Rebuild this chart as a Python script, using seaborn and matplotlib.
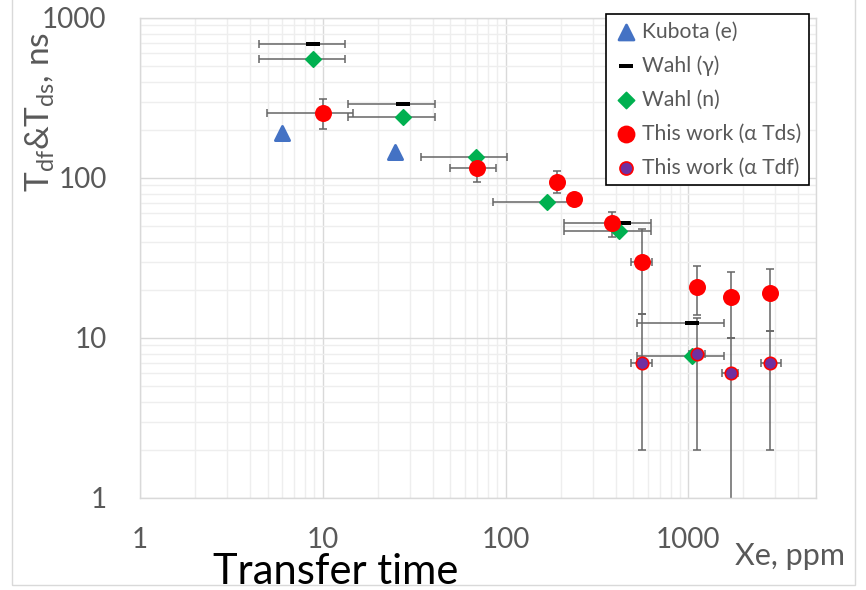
import numpy as np
import matplotlib
matplotlib.use("Agg")
import matplotlib.pyplot as plt
import seaborn as sns
from matplotlib.patches import Rectangle
from matplotlib.ticker import LogLocator, FuncFormatter, NullFormatter

# ---------------- data ----------------
kub_x = [6.0, 25.0]
kub_y = [190, 145]

wg_x = [8.8, 27.5, 447, 1050]
wg_y = [688, 292, 52.3, 12.4]
wg_xlo = [4.5, 13.7, 210, 526]
wg_xhi = [13.2, 41, 628, 1573]

wn_x = [8.8, 27.5, 69, 168, 420, 1050]
wn_y = [554, 240, 135, 71, 46.6, 7.7]
wn_xlo = [4.5, 13.7, 34.4, 85, 210, 526]
wn_xhi = [13.2, 41, 102, 238, 628, 1573]

tds_x = [10, 69.5, 192, 238, 384, 561, 1120, 1718, 2806]
tds_y = [255, 115, 94.4, 73.9, 52.3, 29.9, 20.8, 18.0, 19.1]
tds_ylo = [202, 94.4, 80.5, 73.9, 42.8, 14.1, 13.9, 10.0, 11.0]
tds_yhi = [312, 130, 110.6, 73.9, 61.3, 48.0, 28.2, 25.8, 27.0]
tds_xlo = [4.94, 49.4, 192, 238, 384, 488, 1120, 1718, 2806]
tds_xhi = [14.6, 88.2, 192, 238, 384, 636, 1120, 1718, 2806]

tdf_x = [561, 1120, 1718, 2806]
tdf_y = [7.0, 7.9, 6.0, 7.0]
tdf_ylo = [2.0, 2.0, 0.3, 2.0]
tdf_yhi = [14.1, 13.3, 10.0, 11.0]
tdf_xlo = [488, 1010, 1534, 2505]
tdf_xhi = [636, 1239, 1876, 3222]

x_ticks = [1, 10, 100, 1000]
y_ticks = [1, 10, 100, 1000]

# ---------------- style ----------------
sns.set_theme(style="white")
plt.rcParams['font.family'] = ['Lato', 'DejaVu Sans']
plt.rcParams['mathtext.fontset'] = 'custom'
plt.rcParams['mathtext.rm'] = 'Lato'
plt.rcParams['mathtext.it'] = 'Lato:italic'
plt.rcParams['mathtext.default'] = 'regular'

GRAY_TXT = '#595959'
ERR = '#666666'

W, H = 866, 590
fig = plt.figure(figsize=(W / 100, H / 100), dpi=100)
left, right, top, bottom = 140, 816, 18, 498
ax = fig.add_axes([left / W, 1 - bottom / H, (right - left) / W, (bottom - top) / H])

ax.set_xscale('log')
ax.set_yscale('log')


def err(c, lo, hi):
    c = np.array(c, float)
    return [c - np.array(lo, float), np.array(hi, float) - c]


ekw = dict(fmt='none', ecolor=ERR, elinewidth=1.1, capsize=3, capthick=1.1, zorder=2)
ax.errorbar(wg_x, wg_y, xerr=err(wg_x, wg_xlo, wg_xhi), **ekw)
ax.errorbar(wn_x, wn_y, xerr=err(wn_x, wn_xlo, wn_xhi), **ekw)
ax.errorbar(tds_x, tds_y, xerr=err(tds_x, tds_xlo, tds_xhi),
            yerr=err(tds_y, tds_ylo, tds_yhi), **ekw)
ax.errorbar(tdf_x, tdf_y, xerr=err(tdf_x, tdf_xlo, tdf_xhi),
            yerr=err(tdf_y, tdf_ylo, tdf_yhi), **ekw)

dash = [(-1, -0.33), (1, -0.33), (1, 0.33), (-1, 0.33), (-1, -0.33)]

sns.scatterplot(x=kub_x, y=kub_y, marker='^', s=105, color='#4472C4',
                edgecolor='#4472C4', linewidth=2.0, label='Kubota (e)', ax=ax, zorder=3)
sns.scatterplot(x=wg_x, y=wg_y, marker=dash, s=100, color='black',
                edgecolor='black', linewidth=0, label='Wahl (γ)', ax=ax, zorder=4)
sns.scatterplot(x=wn_x, y=wn_y, marker='D', s=62, color='#00B050',
                edgecolor='#00B050', linewidth=1.2, label='Wahl (n)', ax=ax, zorder=5)
sns.scatterplot(x=tds_x, y=tds_y, marker='o', s=150, color='#FF0000',
                edgecolor='#FF0000', linewidth=0, label='This work (α Tds)', ax=ax, zorder=6)
sns.scatterplot(x=tdf_x, y=tdf_y, marker='o', s=80, color='#7030A0',
                edgecolor='#FF0000', linewidth=1.2, label='This work (α Tdf)', ax=ax, zorder=7)

for coll in ax.collections:
    try:
        coll.set_joinstyle('round')
    except Exception:
        pass

ax.set_xlim(1, 5000)
ax.set_ylim(1, 1000)
ax.set_xlabel('')
ax.set_ylabel('')

ax.set_xticks(x_ticks)
ax.set_yticks(y_ticks)
ax.xaxis.set_minor_locator(LogLocator(base=10, subs=np.arange(2, 10), numticks=20))
ax.yaxis.set_minor_locator(LogLocator(base=10, subs=np.arange(2, 10), numticks=20))
ax.xaxis.set_major_formatter(FuncFormatter(lambda v, p: f"{v:g}"))
ax.yaxis.set_major_formatter(FuncFormatter(lambda v, p: f"{v:g}"))
ax.xaxis.set_minor_formatter(NullFormatter())
ax.yaxis.set_minor_formatter(NullFormatter())

ax.grid(True, which='major', color='#d9d9d9', linewidth=1.0, zorder=0)
ax.grid(True, which='minor', color='#eeeeee', linewidth=1.0, zorder=0)
ax.set_axisbelow(True)
ax.tick_params(which='both', length=0, labelsize=20, labelcolor=GRAY_TXT)
ax.tick_params(axis='x', pad=21)
ax.tick_params(axis='y', pad=24)
for s in ax.spines.values():
    s.set_color('#d9d9d9')
    s.set_linewidth(1.0)

leg = ax.legend(loc='upper left', bbox_to_anchor=(606 / W, 1 - 14 / H),
                bbox_transform=fig.transFigure, borderaxespad=0, frameon=True,
                fancybox=False, framealpha=1, edgecolor='black', fontsize=15.2,
                labelspacing=0.66, handletextpad=0.15, handlelength=1.2,
                borderpad=0.35, markerscale=1.05)
leg.get_frame().set_linewidth(1.2)
for t in leg.get_texts():
    t.set_color(GRAY_TXT)

fig.text(40 / W, 1 - 112 / H, r'T$\mathregular{_{df}}$&T$\mathregular{_{ds}}$, ns',
         rotation=90, ha='center', va='center', fontsize=24, color=GRAY_TXT)
fig.text(790 / W, 1 - 556 / H, 'Xe, ppm', ha='center', va='center',
         fontsize=22, color=GRAY_TXT)
fig.text(336 / W, 1 - 584 / H, 'Transfer time', ha='center', va='baseline',
         fontsize=30, color='black')

fig.patches.append(Rectangle((12 / W, 5 / H), (855 - 12) / W, 1.0, transform=fig.transFigure,
                             fill=False, edgecolor='#d9d9d9', linewidth=1.0, clip_on=False))

fig.savefig('out.png', dpi=100)
